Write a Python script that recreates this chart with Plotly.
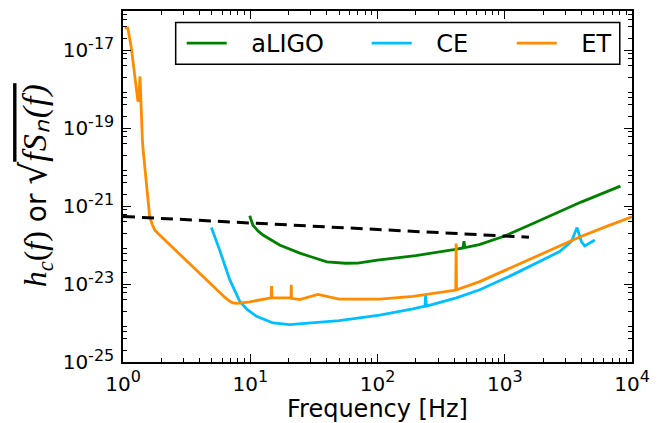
import plotly.graph_objects as go

# ---------------- data ----------------
f_aligo = [9.9, 10.2, 10.5, 11.5, 12.6, 17, 24.5, 30, 40, 56, 70, 100, 200, 398, 470, 478, 486, 631,
           1000, 1585, 2512, 3981, 8110]
h_aligo = [5.6e-22, 4.3e-22, 3.2e-22, 2.3e-22, 1.8e-22, 1.0e-22, 6.2e-23, 5.0e-23, 3.7e-23, 3.4e-23,
           3.45e-23, 4.07e-23, 5.37e-23, 7.6e-23, 8.4e-23, 1.26e-22, 8.6e-23, 1.02e-22,
           1.70e-22, 3.31e-22, 6.6e-22, 1.26e-21, 3.24e-21]

f_ce = [4.95, 5.75, 6.9, 8.3, 9.5, 11.2, 15.1, 20.4, 50, 104, 190, 236, 239, 242, 417, 636, 1160, 2125,
        2700, 3340, 3700, 4000, 4250, 5100]
h_ce = [2.8e-22, 7.4e-23, 1.29e-23, 3.5e-24, 2.2e-24, 1.48e-24, 1.0e-24, 9.1e-25, 1.15e-24, 1.6e-24,
        2.3e-24, 2.7e-24, 5.2e-24, 2.7e-24, 4.4e-24, 7.1e-24, 1.74e-23, 4.6e-23, 6.8e-23, 1.23e-22,
        2.8e-22, 1.23e-22, 9.5e-23, 1.35e-22]

f_et = [1.03, 1.09, 1.16, 1.24, 1.29, 1.31, 1.33, 1.36, 1.42, 1.44, 1.62, 1.7, 1.78, 1.94, 6.3, 6.9, 7.3,
        7.8, 8.6, 9.9, 14.6, 14.7, 14.8, 20.9, 21.0, 21.1, 24.5, 34, 50, 104, 190, 412, 415, 418, 636,
        1160, 2125, 3880, 6310, 10000]
h_et = [3.7e-17, 3.7e-17, 1.2e-17, 2.0e-18, 6.3e-19, 4.8e-19, 5.1e-19, 2.1e-18, 4.9e-20, 2.7e-20,
        5.4e-22, 3.3e-22, 2.4e-22, 1.8e-22, 4.6e-24, 3.6e-24, 3.3e-24, 3.2e-24, 3.3e-24, 3.5e-24,
        4.4e-24, 8.9e-24, 4.4e-24, 4.4e-24, 9.5e-24, 4.3e-24, 4.0e-24, 5.4e-24, 4.1e-24, 4.1e-24,
        4.8e-24, 7.0e-24, 1.1e-22, 7.1e-24, 1.15e-23, 2.8e-23, 6.8e-23, 1.6e-22, 3.0e-22, 5.3e-22]

f_sig = [1, 1550]
h_sig = [5.4e-22, 1.58e-22]

series_names = ["aLIGO", "CE", "ET"]

SUP = "<sup><span style=\"font-size:16px\">%s</span></sup>"
x_ticks = [1, 10, 100, 1000, 10000]
x_ticktext = ["10" + SUP % e for e in ["0", "1", "2", "3", "4"]]
y_ticks = [1e-25, 1e-23, 1e-21, 1e-19, 1e-17]
y_ticktext = ["10" + SUP % e for e in ["-25", "-23", "-21", "-19", "-17"]]

x_minor = [m * 10 ** e for e in range(0, 4) for m in range(2, 10)]
y_minor = [m * 10.0 ** e for e in range(-25, -16) for m in (2, 4, 6, 8)]

# ---------------- figure ----------------
GREEN = "#008000"
BLUE = "#00BFFF"
ORANGE = "#FF8C00"
FONT = "DejaVu Sans"
GAP = "\u2002\u00a0"  # spacing between legend line and label (matplotlib handletextpad)

fig = go.Figure()
fig.add_trace(go.Scatter(x=f_aligo, y=h_aligo, mode="lines", name=GAP + series_names[0], legend="legend",
                         line=dict(color=GREEN, width=2.8)))
fig.add_trace(go.Scatter(x=f_ce, y=h_ce, mode="lines", name=GAP + series_names[1], legend="legend2",
                         line=dict(color=BLUE, width=2.8)))
fig.add_trace(go.Scatter(x=f_et, y=h_et, mode="lines", name=GAP + series_names[2], legend="legend3",
                         line=dict(color=ORANGE, width=2.8)))
fig.add_trace(go.Scatter(x=f_sig, y=h_sig, mode="lines", showlegend=False,
                         line=dict(color="black", width=3, dash="12px,7px")))

axis_common = dict(showgrid=False, zeroline=False, showline=True, linecolor="black", linewidth=1.5,
                   mirror="ticks", ticks="inside", ticklen=8, tickwidth=1.3, tickcolor="black",
                   tickfont=dict(family=FONT, size=20, color="black"))

fig.update_xaxes(type="log", range=[0, 4], tickmode="array", tickvals=x_ticks, ticktext=x_ticktext,
                 minor=dict(tickmode="array", tickvals=x_minor, ticks="inside", ticklen=4,
                            tickwidth=1, tickcolor="black"),
                 ticklabelstandoff=3,
                 title=dict(text="Frequency [Hz]", font=dict(family=FONT, size=24, color="black"),
                            standoff=2),
                 **axis_common)
fig.update_yaxes(type="log", range=[-25, -16], tickmode="array", tickvals=y_ticks, ticktext=y_ticktext,
                 minor=dict(tickmode="array", tickvals=y_minor, ticks="inside", ticklen=4,
                            tickwidth=1, tickcolor="black"),
                 ticklabelstandoff=3,
                 **axis_common)

ytitle = ("<span style=\"font-family:Liberation Serif;font-size:32px\"><i>h<sub>c</sub></i>(<i>f</i>)</span>"
          " or "
          "<span style=\"font-family:DejaVu Sans;font-size:36px\">√</span>"
          "<span style=\"font-family:Liberation Serif;font-style:italic;font-size:34px;"
          "letter-spacing:1px;text-decoration:overline\">fSₙ(f)</span>")

leg_common = dict(orientation="h", yanchor="middle", y=0.9076, xanchor="left",
                  bgcolor="rgba(0,0,0,0)", borderwidth=0, itemwidth=40,
                  font=dict(family=FONT, size=24, color="black"))
fig.update_layout(
    width=665, height=423,
    margin=dict(l=123, r=33, t=11, b=61, autoexpand=False),
    paper_bgcolor="white", plot_bgcolor="white",
    legend=dict(x=(182 - 123.3) / 509, **leg_common),
    legend2=dict(x=(367 - 123.3) / 509, **leg_common),
    legend3=dict(x=(512 - 123.3) / 509, **leg_common),
    annotations=[dict(text=ytitle, xref="paper", yref="paper", x=(36 - 123.3) / 509,
                      y=(362.3 - 185.5) / 351.8, xanchor="center", yanchor="middle",
                      textangle=-90, showarrow=False,
                      font=dict(family=FONT, size=28, color="black"))],
    shapes=[dict(type="rect", xref="paper", yref="paper", x0=0.1035, x1=0.976, y0=0.848, y1=0.967,
                 line=dict(color="black", width=1.5), fillcolor="white", layer="below")],
)
fig.write_html("out.html", config={"displayModeBar": False},
               post_script="document.body.style.margin='0';document.body.style.padding='0';")
